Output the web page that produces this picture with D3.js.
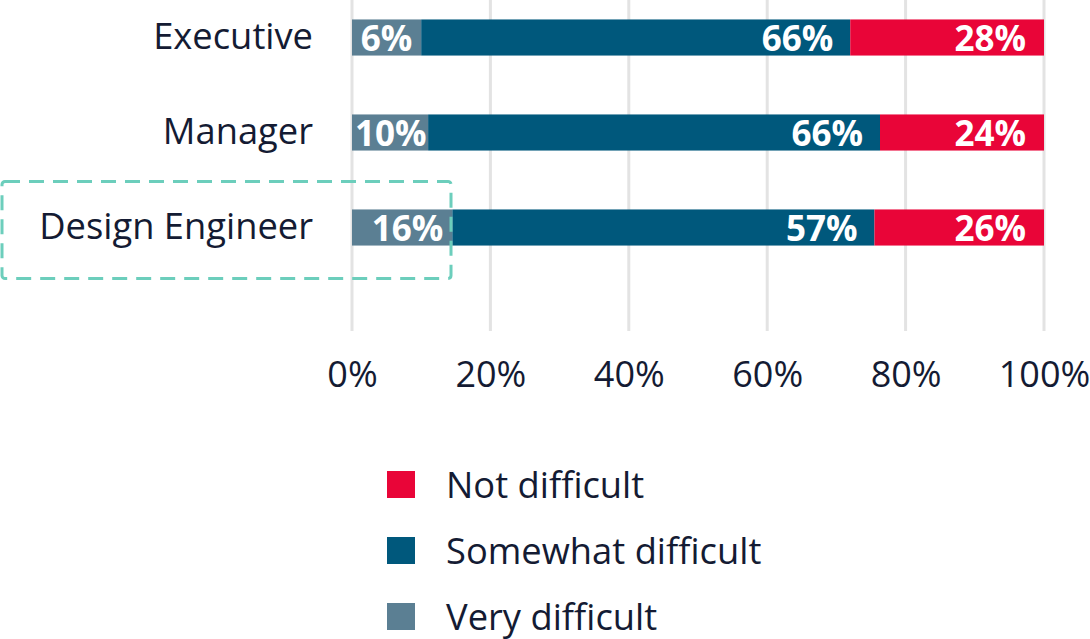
<!DOCTYPE html>
<html>
<head>
<meta charset="utf-8">
<script src="https://cdn.jsdelivr.net/npm/d3@7"></script>
<style>
  html, body { margin: 0; padding: 0; background: #fff; }
  svg { display: block; font-family: "Open Sans", sans-serif; }
</style>
</head>
<body>
<svg id="chart" width="1090" height="639"></svg>
<script>
// ---- data ----
const categories = ["Executive", "Manager", "Design Engineer"];
const seriesNames = ["Very difficult", "Somewhat difficult", "Not difficult"];
// bar lengths as drawn in the picture (percent)
const veryDifficult     = [10, 11, 14.5];
const somewhatDifficult = [62, 65.3, 61];
const notDifficult      = [28, 23.7, 24.5];
// printed labels (percent)
const veryLabels     = [6, 10, 16];
const somewhatLabels = [66, 66, 57];
const notLabels      = [28, 24, 26];
const tickValues = [0, 20, 40, 60, 80, 100];
const legendOrder = ["Not difficult", "Somewhat difficult", "Very difficult"];
const highlighted = "Design Engineer";

// ---- styles ----
const colors = {"Very difficult": "#5b7f93", "Somewhat difficult": "#00587c", "Not difficult": "#e90538"};
const textColor = "#141b33";
const fontSize = 36.3;
const tickFontSize = 36;
const valueFontSize = 35;

const svg = d3.select("#chart");
const x = d3.scaleLinear().domain([0, 100]).range([352, 1044]);
const y = d3.scaleBand().domain(categories).range([-10, 275]).paddingInner(0.62).paddingOuter(0.31);

// gridlines
svg.append("g").selectAll("line").data(tickValues).join("line")
  .attr("x1", d => x(d)).attr("x2", d => x(d))
  .attr("y1", 0).attr("y2", 331)
  .attr("stroke", "#e3e3e3").attr("stroke-width", 3);

// axis labels
const axis = d3.axisBottom(x).tickValues(tickValues).tickFormat(d => d + "%").tickSize(0).tickPadding(0);
const ax = svg.append("g").attr("transform", "translate(0,387)").call(axis);
ax.select(".domain").remove();
ax.selectAll("text").attr("dy", 0).attr("y", 0)
  .style("font-size", tickFontSize + "px").style("font-family", "'Open Sans', sans-serif")
  .attr("fill", textColor);

// stacked data
const rows = categories.map((c, i) => ({
  cat: c,
  "Very difficult": veryDifficult[i],
  "Somewhat difficult": somewhatDifficult[i],
  "Not difficult": notDifficult[i],
  labels: {"Very difficult": veryLabels[i], "Somewhat difficult": somewhatLabels[i], "Not difficult": notLabels[i]}
}));
const stack = d3.stack().keys(seriesNames)(rows);

const layers = svg.append("g").selectAll("g").data(stack).join("g")
  .attr("fill", d => colors[d.key]);
layers.selectAll("rect").data(d => d.map(s => ({s, key: d.key}))).join("rect")
  .attr("x", d => x(d.s[0]))
  .attr("width", d => x(d.s[1]) - x(d.s[0]))
  .attr("y", d => y(d.s.data.cat))
  .attr("height", y.bandwidth());

// value labels
const pads = {"Very difficult": 9, "Somewhat difficult": 17, "Not difficult": 18};
const lbl = svg.append("g").selectAll("g").data(stack).join("g");
lbl.selectAll("text").data(d => d.map(s => ({s, key: d.key}))).join("text")
  .attr("text-anchor", "end")
  .attr("y", d => y(d.s.data.cat) + y.bandwidth() / 2 + 13)
  .attr("fill", "#fff")
  .style("font-weight", 700)
  .style("font-size", valueFontSize + "px")
  .text(d => d.s.data.labels[d.key] + "%")
  .each(function(d) {
    const w = this.getComputedTextLength();
    const start = x(d.s[0]), end = x(d.s[1]);
    let xe = end - pads[d.key];
    if (xe - w < start + 3) xe = Math.min(end - 1, start + 3 + w);
    d3.select(this).attr("x", xe);
  });

// category labels
svg.append("g").selectAll("text").data(categories).join("text")
  .attr("x", 313)
  .attr("y", d => y(d) + y.bandwidth() / 2 + 11)
  .attr("text-anchor", "end")
  .attr("fill", textColor)
  .style("font-size", fontSize + "px")
  .text(d => d);

// highlight box
const hb = y(highlighted);
svg.append("rect")
  .attr("x", 2).attr("y", hb - 28)
  .attr("width", 449).attr("height", 97)
  .attr("rx", 3)
  .attr("fill", "none").attr("stroke", "#6ccebc")
  .attr("stroke-width", 3).attr("stroke-dasharray", "15,9");

// legend
const lg = svg.append("g").selectAll("g").data(legendOrder).join("g")
  .attr("transform", (d, i) => `translate(387,${471 + i * 66})`);
lg.append("rect").attr("width", 28).attr("height", 27).attr("fill", d => colors[d]);
lg.append("text").attr("x", 59).attr("y", 27)
  .attr("fill", textColor).style("font-size", fontSize + "px").text(d => d);
</script>
</body>
</html>
